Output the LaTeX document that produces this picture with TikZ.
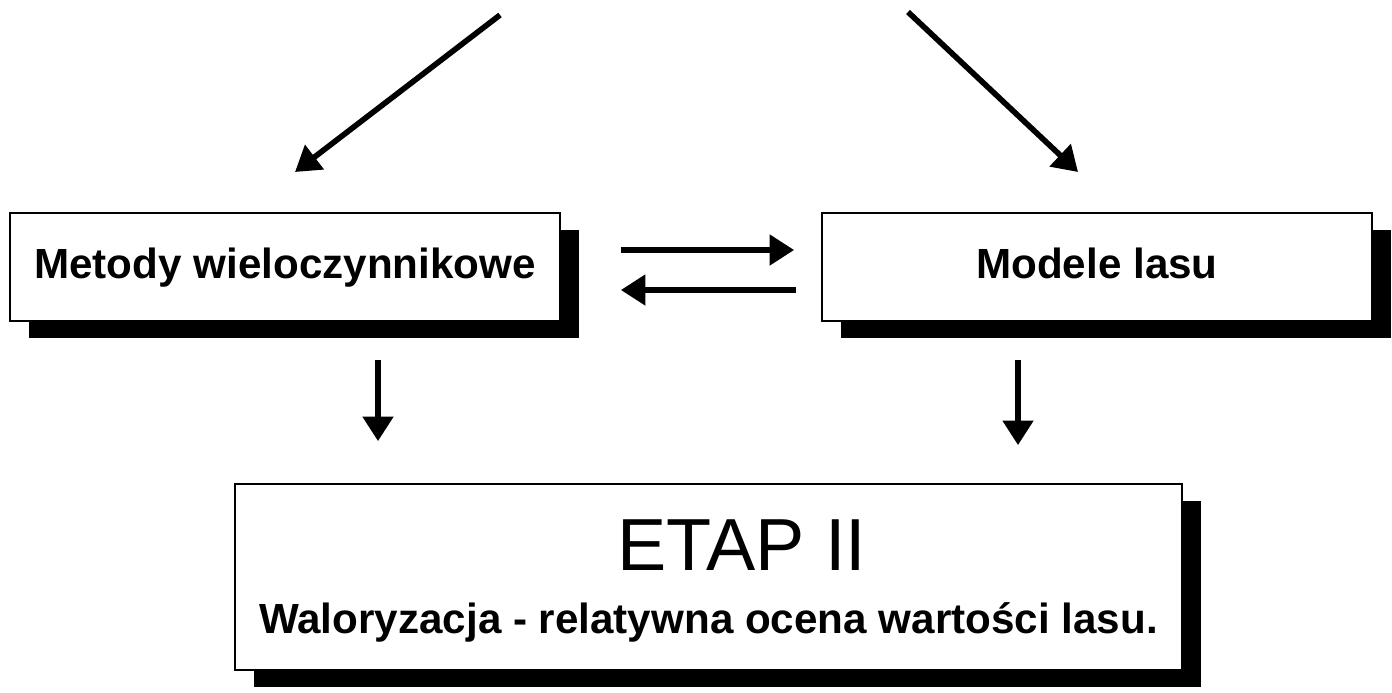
\documentclass[tikz,border=0pt]{standalone}
\usepackage{fontspec}
\setmainfont{Liberation Sans}
\usetikzlibrary{arrows.meta, shadows, positioning}

\begin{document}
\begin{tikzpicture}[
    box/.style={draw, line width=0.5pt, fill=white, minimum width=5.5cm, minimum height=1.08cm,
      font=\fontsize{12}{14}\selectfont\bfseries, text height=1.38ex, text depth=0.15ex,
      drop shadow={shadow xshift=0.19cm, shadow yshift=-0.17cm, opacity=1, fill=black}},
    arr/.style={line width=1.6pt, -{Triangle[length=7pt, width=8.5pt]}}
  ]
  \useasboundingbox (0,0) rectangle (13.92,6.92);

  % Nodes
  \node[box] (metody) at (2.85, 4.25) {Metody wieloczynnikowe};
  \node[box] (modele) at (10.97, 4.25) {Modele lasu};
  \node[box, minimum width=9.47cm, minimum height=1.86cm] (etap) at (7.085, 1.15) {};
  \node[anchor=base, font=\fontsize{21}{25}\selectfont] (etapt) at (7.42, 1.22) {ETAP II};
  \node[anchor=base, font=\fontsize{12}{14}\selectfont\bfseries] (etapd) at (7.085, 0.59) {Waloryzacja - relatywna ocena wartości lasu.};
  \coordinate (inL) at (5.00, 6.77);
  \coordinate (outL) at (2.95, 5.20);
  \coordinate (inR) at (9.08, 6.80);
  \coordinate (outR) at (10.78, 5.20);

  % Edges
  \draw[arr] (inL) -- (outL);
  \draw[arr] (inR) -- (outR);
  \draw[arr] ([xshift=0.6cm, yshift=0.17cm]metody.east) -- ([xshift=-0.27cm, yshift=0.17cm]modele.west);
  \draw[arr] ([xshift=-0.25cm, yshift=-0.23cm]modele.west) -- ([xshift=0.6cm, yshift=-0.23cm]metody.east);
  \draw[arr, shorten <=0.38cm, shorten >=0.42cm] ([xshift=0.93cm]metody.south) -- ([xshift=0.93cm]metody.south |- etap.north);
  \draw[arr, shorten <=0.38cm, shorten >=0.38cm] ([xshift=-0.79cm]modele.south) -- ([xshift=-0.79cm]modele.south |- etap.north);

\end{tikzpicture}
\end{document}
